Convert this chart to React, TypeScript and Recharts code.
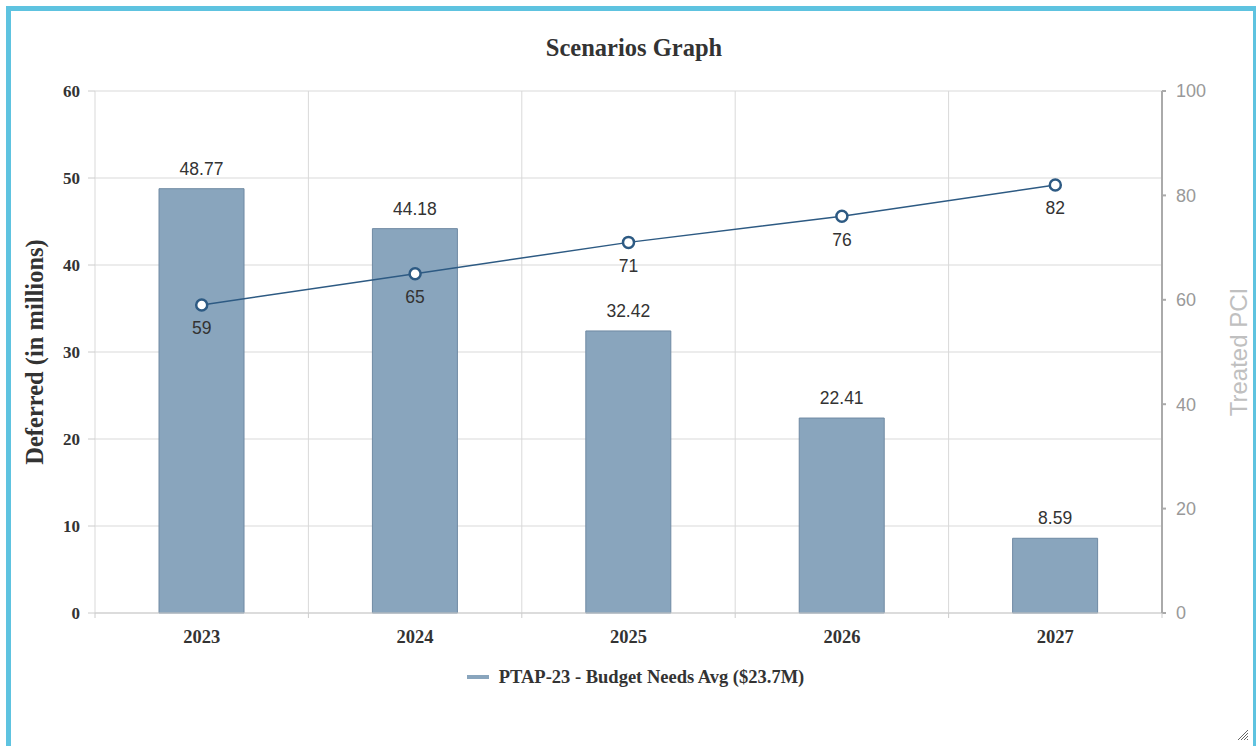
import React from "react";
import {
    ComposedChart,
    Bar,
    Line,
    XAxis,
    YAxis,
    CartesianGrid,
    LabelList,
    Legend,
} from "recharts";

const years = ["2023", "2024", "2025", "2026", "2027"];
const deferred = [48.77, 44.18, 32.42, 22.41, 8.59];
const treatedPci = [59, 65, 71, 76, 82];
const leftTicks = [0, 10, 20, 30, 40, 50, 60];
const rightTicks = [0, 20, 40, 60, 80, 100];
const seriesName = "PTAP-23 - Budget Needs Avg ($23.7M)";

const data = years.map((year, i) => ({
    year,
    deferred: deferred[i],
    pci: treatedPci[i],
}));

const SERIF = '"Liberation Serif", "Times New Roman", serif';
const SANS = '"Liberation Sans", Arial, sans-serif';
const BAR_FILL = "#89a5bd";
const LINE_COLOR = "#2d5a83";

function XTick(props: any) {
    const { x, y, payload, width } = props;
    const band = width ? width / years.length : 0;
    return (
        <g>
            {band > 0 && (
                <line x1={x - band / 2} x2={x - band / 2} y1={y - 8} y2={y - 3} stroke="#ccc" />
            )}
            {band > 0 && payload.index === years.length - 1 && (
                <line x1={x + band / 2} x2={x + band / 2} y1={y - 8} y2={y - 3} stroke="#ccc" />
            )}
            <text
                x={x}
                y={y + 22}
                textAnchor="middle"
                fontFamily={SERIF}
                fontWeight="bold"
                fontSize={18.5}
                fill="#333"
            >
                {payload.value}
            </text>
        </g>
    );
}

function LegendContent() {
    return (
        <div
            style={{
                display: "flex",
                justifyContent: "center",
                alignItems: "center",
                fontFamily: SERIF,
                fontWeight: "bold",
                fontSize: 18.5,
                color: "#333",
                paddingLeft: 12,
                lineHeight: "20px",
            }}
        >
            <span style={{ display: "inline-block", width: 22, height: 4, background: BAR_FILL, marginRight: 10 }} />
            <span>{seriesName}</span>
        </div>
    );
}

export default function App() {
    return (
        <div style={{ position: "absolute", left: 0, top: 0, width: 1259, height: 746, background: "#fff" }}>
            <div
                style={{
                    position: "absolute",
                    left: 6,
                    top: 6,
                    width: 1250,
                    height: 760,
                    borderLeft: "5px solid #5ec3e0",
                    borderTop: "5px solid #5ec3e0",
                    borderRight: "3px solid #5ec3e0",
                    boxSizing: "border-box",
                }}
            />
            <div
                style={{
                    position: "absolute",
                    left: 0,
                    top: 33,
                    width: 1268,
                    textAlign: "center",
                    fontFamily: SERIF,
                    fontWeight: "bold",
                    fontSize: 24.5,
                    lineHeight: "30px",
                    color: "#333",
                }}
            >
                Scenarios Graph
            </div>
            <div style={{ position: "absolute", left: 0, top: 0 }}>
                <ComposedChart
                    width={1259}
                    height={746}
                    data={data}
                    margin={{ top: 91, right: 0, left: 0, bottom: 73 }}
                    barCategoryGap="30%"
                >
                    <CartesianGrid
                        yAxisId="left"
                        stroke="#d9d9d9"
                        verticalCoordinatesGenerator={({ offset }: any) =>
                            Array.from({ length: years.length + 1 }, (_, i) => offset.left + (offset.width * i) / years.length)
                        }
                    />
                    <XAxis
                        dataKey="year"
                        height={40}
                        axisLine={{ stroke: "#ccc" }}
                        tickLine={false}
                        tick={<XTick />}
                        interval={0}
                    />
                    <YAxis
                        yAxisId="left"
                        width={95}
                        domain={[0, 60]}
                        ticks={leftTicks}
                        axisLine={false}
                        tickLine={{ stroke: "#ccc" }}
                        tickSize={7}
                        tickMargin={8}
                        tick={{ fontFamily: SERIF, fontWeight: "bold", fontSize: 17, fill: "#333" }}
                        label={{
                            value: "Deferred (in millions)",
                            angle: -90,
                            position: "insideLeft",
                            dx: 29,
                            dy: 0,
                            style: { fontFamily: SERIF, fontWeight: "bold", fontSize: 24.5, fill: "#333", textAnchor: "middle" },
                        }}
                    />
                    <YAxis
                        yAxisId="right"
                        orientation="right"
                        width={97}
                        domain={[0, 100]}
                        ticks={rightTicks}
                        axisLine={{ stroke: "#aaa", strokeWidth: 2 }}
                        tickLine={{ stroke: "#aaa", strokeWidth: 2 }}
                        tickSize={4}
                        tickMargin={10}
                        tick={{ fontFamily: SANS, fontSize: 18, fill: "#999" }}
                        label={{
                            value: "Treated PCI",
                            angle: -90,
                            position: "insideRight",
                            dx: -16,
                            dy: 0,
                            style: { fontFamily: SANS, fontSize: 24, fill: "#c0c0c0", textAnchor: "middle" },
                        }}
                    />
                    <Legend
                        verticalAlign="bottom"
                        content={<LegendContent />}
                        wrapperStyle={{ top: 667, bottom: "auto", left: 0, width: 1259, height: 20 }}
                    />
                    <Bar
                        yAxisId="left"
                        dataKey="deferred"
                        name={seriesName}
                        fill={BAR_FILL}
                        stroke="#6f8aa3"
                        strokeWidth={1}
                        isAnimationActive={false}
                    >
                        <LabelList
                            dataKey="deferred"
                            position="top"
                            offset={14}
                            style={{ fontFamily: SANS, fontSize: 17.5, fill: "#333" }}
                        />
                    </Bar>
                    <Line
                        yAxisId="right"
                        dataKey="pci"
                        stroke={LINE_COLOR}
                        strokeWidth={1.5}
                        dot={{ r: 5.5, fill: "#fff", stroke: LINE_COLOR, strokeWidth: 2.5 }}
                        activeDot={false}
                        legendType="none"
                        isAnimationActive={false}
                    >
                        <LabelList
                            dataKey="pci"
                            position="bottom"
                            offset={17}
                            style={{ fontFamily: SANS, fontSize: 17.5, fill: "#333" }}
                        />
                    </Line>
                </ComposedChart>
            </div>
            <svg style={{ position: "absolute", left: 1236, top: 728 }} width={14} height={14}>
                <path d="M12 2 L2 12 M12 5 L5 12 M12 8 L8 12 M12 11 L11 12" stroke="#666" strokeWidth={1} />
            </svg>
        </div>
    );
}
